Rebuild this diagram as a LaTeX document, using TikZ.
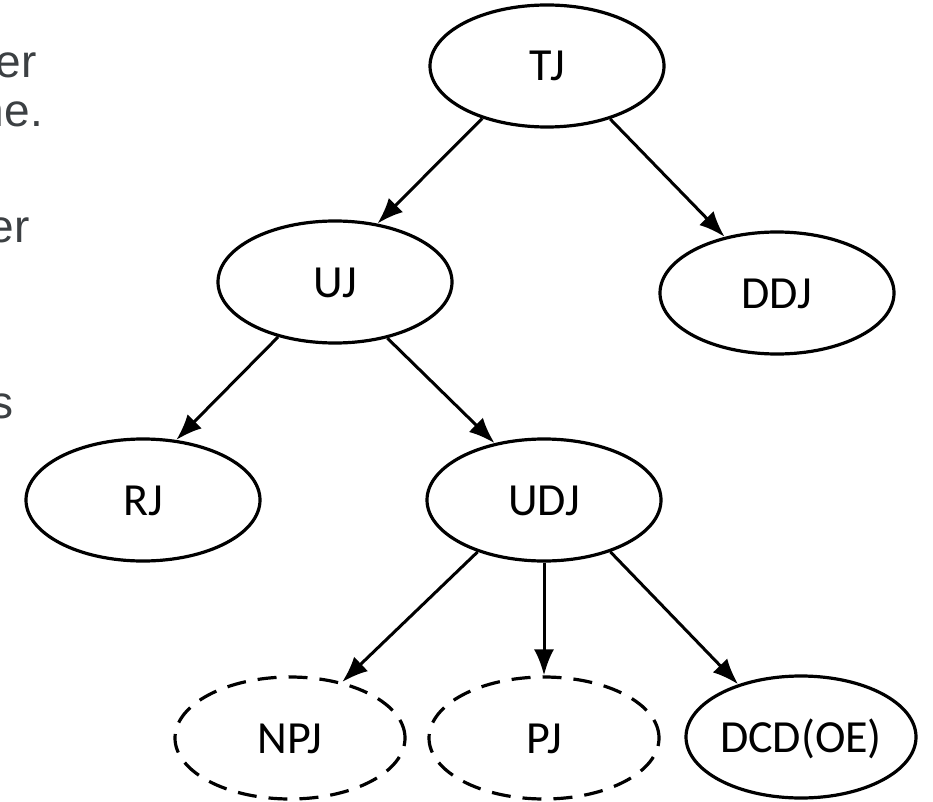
\documentclass[tikz,border=0pt]{standalone}
\usepackage{fontspec}
\setmainfont{Carlito}
\newfontfamily\sidefont{Liberation Sans}
\usetikzlibrary{shapes.geometric,arrows.meta}
\definecolor{sidegray}{RGB}{60,64,67}

\begin{document}
\begin{tikzpicture}[x=1pt,y=-1pt,>={Latex[length=26pt,width=20pt]},
        judg/.style={ellipse,draw,line width=3.2pt,minimum width=234pt,minimum height=122pt,
            inner sep=0pt,text height=30pt,text depth=0pt,font=\fontsize{46}{50}\selectfont},
        maybe/.style={judg,dash pattern=on 19pt off 12pt,minimum width=230pt},
        link/.style={->,line width=3pt},
        sidetext/.style={anchor=base east,inner sep=0pt,text=sidegray,
            font=\sidefont\fontsize{46}{54}\selectfont}]
        % the page, cut like the screenshot
        \useasboundingbox (0,0) rectangle (933,802);
        \clip (0,0) rectangle (933,802);

        % the cut-off text on the left
        \node[sidetext] (er1) at (37,78)  {er};
        \node[sidetext] (ne)  at (43,127) {ne.};
        \node[sidetext] (er2) at (30,242) {er};
        \node[sidetext] (s)   at (14,418) {s};

        % draw the tree
        \node[judg] (TJ)  at (547,66)  {TJ};
        \node[judg] (UJ)  at (335,282) {UJ};
        \node[judg] (DDJ) at (777,293) {DDJ};
        \node[judg] (RJ)  at (143,500) {RJ};
        \node[judg] (UDJ) at (544,500) {UDJ};

        % the bottom row, two of them dashed
        \node[maybe] (NPJ) at (290,738) {NPJ};
        \node[maybe] (PJ)  at (544,738) {PJ};
        \node[judg,minimum width=230pt] (DCD) at (801,737) {DCD(OE)};

        % draw the arrows
        \draw[link] (TJ.219)  -- (UJ.54);
        \draw[link] (TJ.320)  -- (DDJ.133);
        \draw[link] (UJ.224)  -- (RJ.61);
        \draw[link] (UJ.313)  -- (UDJ.131);
        \draw[link] (UDJ.218) -- (NPJ.47);
        \draw[link] (UDJ.270) -- (PJ.90);
        \draw[link] (UDJ.322) -- (DCD.140);
    \end{tikzpicture}
\end{document}
